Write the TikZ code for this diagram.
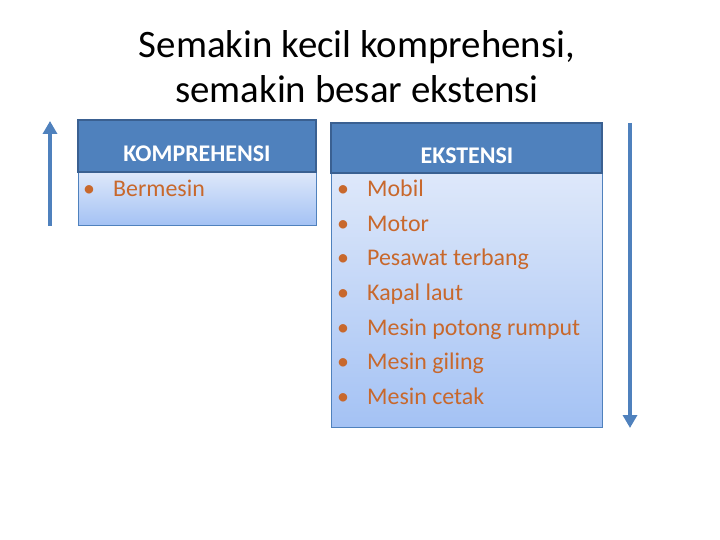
\documentclass[tikz,border=0pt]{standalone}
\usepackage{fontspec}
\setmainfont{Carlito}
\usetikzlibrary{arrows.meta,positioning}
\definecolor{hdblue}{RGB}{79,129,189}
\definecolor{hdline}{RGB}{58,96,145}
\definecolor{bodytop}{RGB}{222,232,250}
\definecolor{bodybot}{RGB}{164,194,244}
\definecolor{itemtxt}{RGB}{200,104,44}

\begin{document}
\begin{tikzpicture}[x=1bp,y=-1bp,
    header/.style={fill=hdblue,draw=hdline,line width=1.5bp},
    listbody/.style={top color=bodytop,bottom color=bodybot,draw=hdblue,line width=0.8bp},
    headtxt/.style={text=white,font=\fontsize{24}{28}\selectfont\bfseries,anchor=base,inner sep=0pt},
    item/.style={text=itemtxt,font=\fontsize{24}{28}\selectfont,anchor=base west,inner sep=0pt},
    dot/.style={text=itemtxt,font=\fontsize{24}{28}\selectfont,anchor=base,inner sep=0pt},
    titletxt/.style={font=\fontsize{39}{44}\selectfont,anchor=base,inner sep=0pt},
    bigarrow/.style={draw=hdblue,line width=3.5bp,-{Triangle[width=14bp,length=13bp]}}]
    \useasboundingbox (0,0) rectangle (720,540);
    % title
    \node[titletxt] (title1) at (357,58) {Semakin kecil komprehensi,};
    \node[titletxt] (title2) at (357,103) {semakin besar ekstensi};
    % komprehensi box
    \draw[listbody] (78,172) rectangle (316,225);
    \draw[header] (78,120) rectangle (316,172);
    \node[headtxt] (komhead) at (197,162) {KOMPREHENSI};
    \node[item] (kom1) at (113,197) {Bermesin};
    \node[dot] at (89,197) {•};
    % ekstensi box
    \draw[listbody] (331,173) rectangle (602,427);
    \draw[header] (331,123) rectangle (602,173);
    \node[headtxt] (ekshead) at (467,164) {EKSTENSI};
    \foreach \t [count=\i] in {Mobil,Motor,Pesawat terbang,Kapal laut,Mesin potong rumput,Mesin giling,Mesin cetak}
    {
        \node[item] (eks\i) at (367,{197+34.5*(\i-1)}) {\t};
        \node[dot] at (343,{197+34.5*(\i-1)}) {•};
    }
    % arrows
    \coordinate (upbot) at (50,226);
    \coordinate (uptop) at (50,121);
    \coordinate (dntop) at (630,123);
    \coordinate (dnbot) at (630,428);
    \draw[bigarrow] (upbot)--(uptop);
    \draw[bigarrow] (dntop)--(dnbot);
\end{tikzpicture}
\end{document}
